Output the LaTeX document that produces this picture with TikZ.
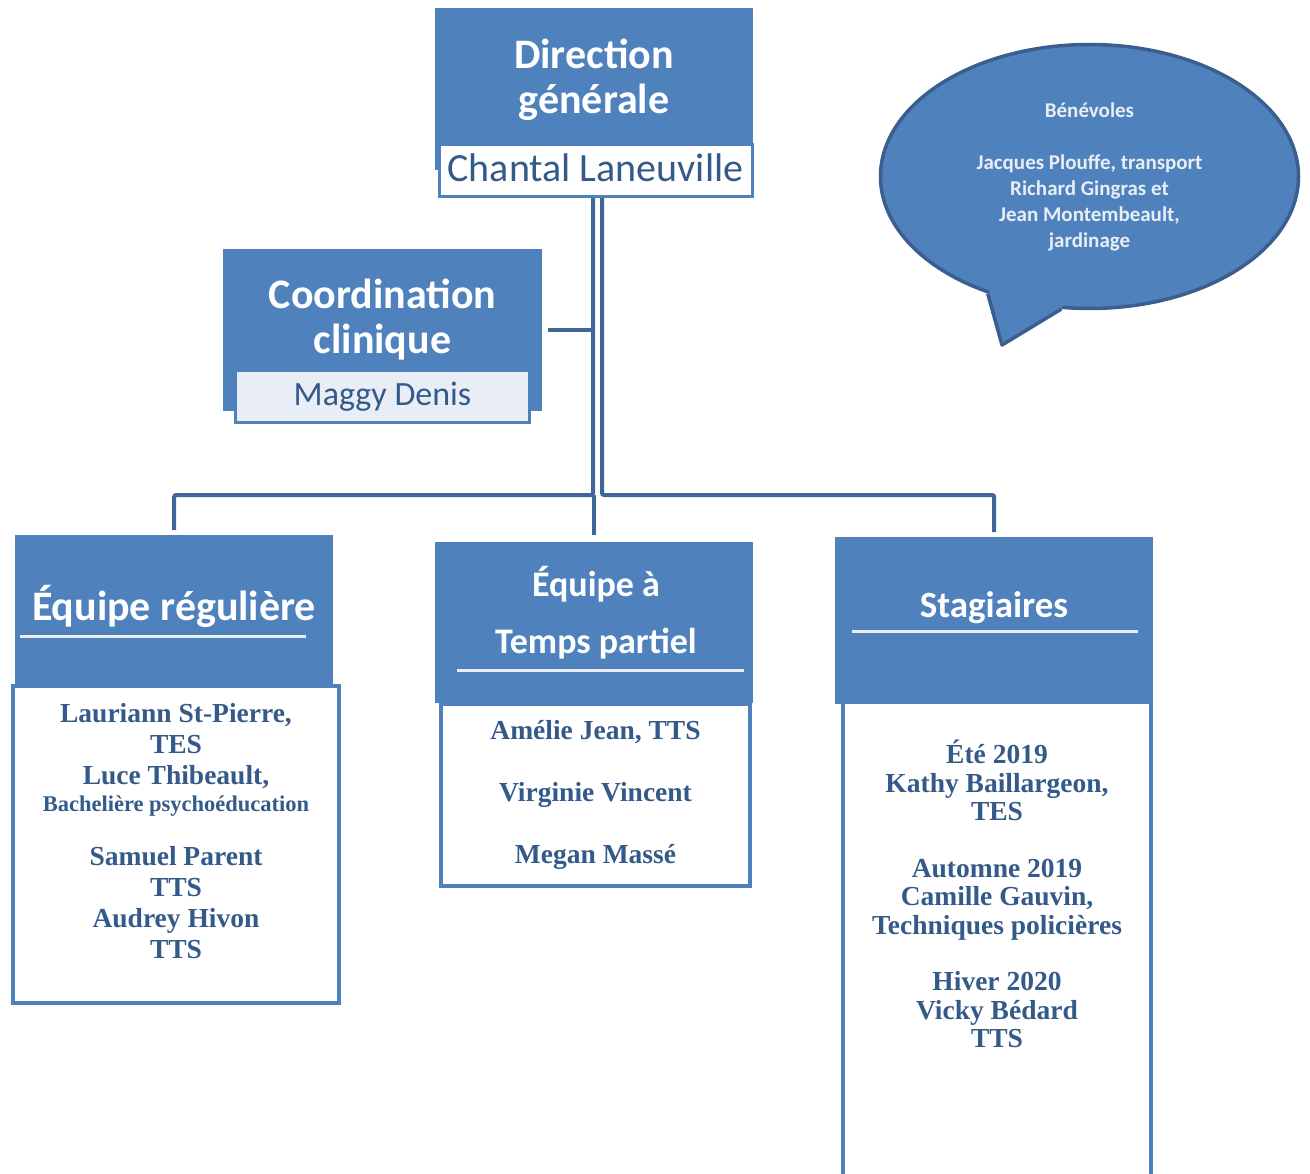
\documentclass[tikz,border=0pt]{standalone}
\usepackage{fontspec}
\setmainfont{Liberation Serif}
\newfontfamily\headfont{Carlito}
\usetikzlibrary{positioning,shapes.geometric}
\definecolor{boxblue}{HTML}{4F81BD}
\definecolor{linkblue}{HTML}{3F6899}
\definecolor{inkblue}{HTML}{345A8A}
\definecolor{rimblue}{HTML}{3A5F8E}
\definecolor{paleblue}{HTML}{E9EEF6}
\tikzstyle{headbox} = [rectangle, fill=boxblue, inner sep=0pt, minimum width=318pt]
\tikzstyle{headtitle} = [text=white, align=center, inner sep=0pt]
\tikzstyle{namebar} = [rectangle, draw=boxblue, line width=3pt, inner sep=0pt, text=inkblue]
\tikzstyle{listbox} = [rectangle, draw=boxblue, line width=4pt, fill=white, inner sep=0pt]
\tikzstyle{names} = [text=inkblue, font=\bfseries, align=center, inner sep=0pt]
\tikzstyle{titlerule} = [draw=paleblue, line width=3pt]
\tikzstyle{line} = [draw=linkblue, line width=4pt, rounded corners=2pt]
\begin{document}
\begin{tikzpicture}[x=1pt, y=-1pt]
			\clip (0,0) rectangle (1310,1174);
			% direction
			\node [headbox, minimum height=162pt, anchor=north west] (dir) at (435,8) {};
			\node [headtitle, font=\headfont\bfseries\fontsize{42}{45}\selectfont] (dirtitle) at (594,80) {Direction\\générale};
			\node [namebar, fill=white, minimum width=313pt, minimum height=52pt, text depth=6pt, font=\headfont\fontsize{40}{44}\selectfont] (dirname) at (595.5,170.5) {Chantal Laneuville};
			% coordination
			\node [headbox, minimum width=319pt, minimum height=162pt, anchor=north west] (coord) at (223,249) {};
			\node [headtitle, font=\headfont\bfseries\fontsize{42}{45}\selectfont] (coordtitle) at (382.5,320) {Coordination\\clinique};
			\node [namebar, fill=paleblue, minimum width=294pt, minimum height=52pt, font=\headfont\fontsize{34}{38}\selectfont] (coordname) at (382.5,396.5) {Maggy Denis};
			% benevoles
			\node [ellipse, fill=boxblue, draw=rimblue, line width=3.5pt, minimum width=418pt, minimum height=264pt, inner sep=0pt] (bulle) at (1089.5,176.5) {};
			\coordinate (tip) at (1002,345);
			\fill [boxblue] (bulle.229) -- (tip) -- (bulle.258) -- (bulle.center) -- cycle;
			\draw [rimblue, line width=3.5pt, line join=round] (bulle.229) -- (tip) -- (bulle.258);
			\node [text=paleblue, align=center, inner sep=0pt, font=\headfont\bfseries\fontsize{21}{26}\selectfont] (benevoles) at (bulle.center) {Bénévoles\\[26pt]Jacques Plouffe, transport\\Richard Gingras et\\Jean Montembeault,\\jardinage};
			% equipe reguliere
			\node [headbox, minimum height=150pt, anchor=north west] (reghead) at (15,535) {};
			\node [headtitle, font=\headfont\bfseries\fontsize{42}{46}\selectfont] (regtitle) at (174,606) {Équipe régulière};
			\draw [titlerule] (20,636) -- (306,636);
			\node [listbox, minimum width=326pt, minimum height=317pt, anchor=north west] (reglist) at (11,684) {};
			\node [names, font=\bfseries\fontsize{27.5}{31}\selectfont, below=19pt of reglist.north] (regnames) {Lauriann St-Pierre,\\TES\\Luce Thibeault,\\[-4pt]{\fontsize{22.5}{26}\selectfont Bachelière psychoéducation}\\[23pt]Samuel Parent\\TTS\\Audrey Hivon\\TTS};
			% equipe temps partiel
			\node [headbox, minimum height=161pt, anchor=north west] (parthead) at (435,542) {};
			\node [headtitle, font=\headfont\bfseries\fontsize{36}{57}\selectfont] (parttitle) at (596,613) {Équipe à\\Temps partiel};
			\draw [titlerule] (457,670) -- (744,670);
			\node [listbox, minimum width=309pt, minimum height=182pt, anchor=north west] (partlist) at (439,702) {};
			\node [names, font=\bfseries\fontsize{27.5}{31}\selectfont, below=18pt of partlist.north] (partnames) {Amélie Jean, TTS\\[31pt]Virginie Vincent\\[31pt]Megan Massé};
			% stagiaires
			\node [headbox, minimum height=163pt, anchor=north west] (staghead) at (835,537) {};
			\node [headtitle, font=\headfont\bfseries\fontsize{37}{42}\selectfont] (stagtitle) at (994,608) {Stagiaires};
			\draw [titlerule] (852,631) -- (1138,631);
			\node [listbox, minimum width=308pt, minimum height=500pt, anchor=north west] (staglist) at (841,700) {};
			\fill [boxblue] (staghead.south west) rectangle ([yshift=-4pt]staghead.south east);
			\node [names, font=\bfseries\fontsize{27.5}{28.5}\selectfont, below=40pt of staglist.north] (stagnames) {Été 2019\\Kathy Baillargeon,\\TES\\[28pt]Automne 2019\\Camille Gauvin,\\Techniques policières\\[28pt]Hiver 2020\\Vicky Bédard\\TTS};
			% liens
			\coordinate (fork) at (594,495);
			\path [line] ([xshift=6pt]coord.east) -- ([xshift=-2.5pt]coord.east -| dirname.south);
			\path [line, shorten >=5pt] ([xshift=-2.5pt]dirname.south) -- ([xshift=-2.5pt]dirname.south |- fork) -| (reghead.north);
			\path [line, shorten >=7pt] (parthead.north |- fork) -- (parthead.north);
			\path [line, shorten >=5pt] ([xshift=6.5pt]dirname.south) -- ([xshift=6.5pt]dirname.south |- fork) -| (staghead.north);
		\end{tikzpicture}
\end{document}
